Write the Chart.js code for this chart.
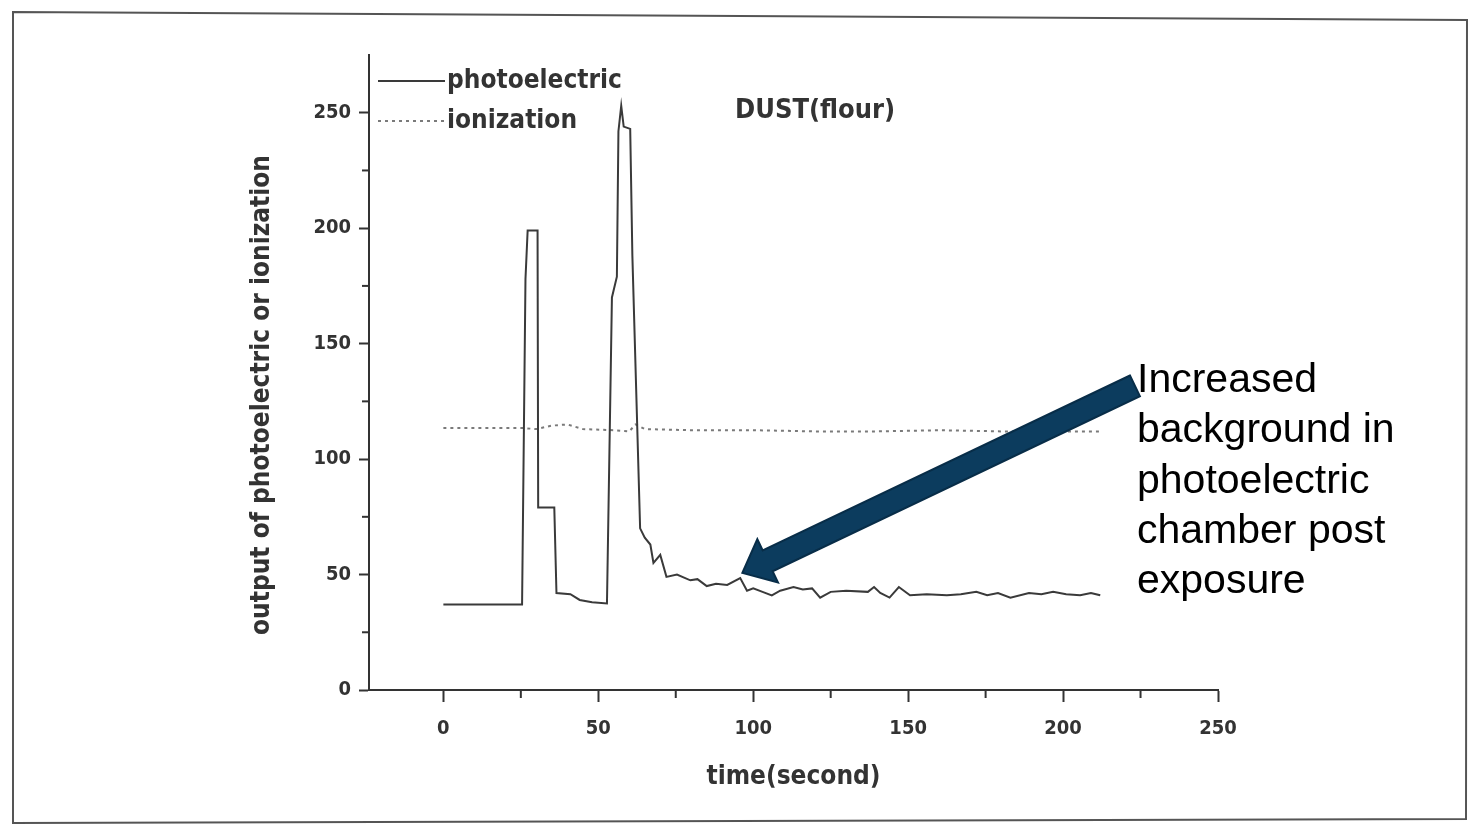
<!DOCTYPE html>
<html>
<head>
<meta charset="utf-8">
<title>DUST(flour)</title>
<script src="https://cdn.jsdelivr.net/npm/chart.js@4.4.0/dist/chart.umd.min.js"></script>
<style>
  html, body { margin: 0; padding: 0; background: #fff; }
  canvas { display: block; }
</style>
</head>
<body>
<canvas id="chart" width="1470" height="831"></canvas>
<script>
// photoelectric trace (time in s, output)
const photoTime = [0, 25.4, 26.5, 27.2, 30.4, 30.6, 35.8, 36.5, 41, 44, 48, 52.8, 54.4, 56, 56.5, 57.4, 58.2, 60.3, 61, 63.5,
  65, 66.8, 67.8, 70, 72, 75.4, 79.7, 82, 85, 88, 91.6, 95.8, 98, 100, 103, 106, 108.7, 113, 116, 119,
  121.6, 125, 130, 137, 139, 141, 144, 147, 150.6, 156, 162.5, 167, 172, 175.5, 179, 183, 189, 193, 196.8, 201,
  205.5, 209, 212];
const photoOutput = [37, 37, 178, 199, 199, 79, 79, 42, 41.5, 39, 38, 37.5, 170, 179, 242, 253, 244, 243, 188, 70,
  66, 63, 55, 58.5, 49, 50, 47.5, 48, 45, 46, 45.5, 48.5, 43, 44, 42.5, 41, 43, 44.6, 43.5, 44,
  40, 42.5, 43, 42.5, 44.6, 42, 40, 44.6, 41, 41.5, 41, 41.5, 42.5, 41, 42, 40, 42, 41.5, 42.5, 41.5,
  41, 42, 41];

// ionization trace
const ionTime = [0, 25, 30, 35, 40, 45, 55, 60, 62, 65, 80, 100, 120, 140, 160, 180, 200, 212];
const ionOutput = [113.5, 113.5, 113, 114.5, 115, 113, 112.5, 112, 115, 113, 112.5, 112.5, 112, 112, 112.5, 112, 112, 112];

const xTicks = [0, 50, 100, 150, 200, 250];
const yTicks = [0, 50, 100, 150, 200, 250];
const xMinorTicks = [25, 75, 125, 175, 225];
const yMinorTicks = [25, 75, 125, 175, 225];

const noteLines = ["Increased", "background in", "photoelectric", "chamber post", "exposure"];
const arrowFrom = { x: 223.2, y: 131.7 };
const arrowTo = { x: 96.5, y: 50.7 };

const FONT = "'DejaVu Sans Condensed', 'DejaVu Sans', sans-serif";
const INK = "#333";

function drawArrow(ctx, x1, y1, x2, y2) {
  const dx = x2 - x1, dy = y2 - y1, len = Math.hypot(dx, dy);
  const ux = dx / len, uy = dy / len, nx = -uy, ny = ux;
  const shaftW = 11.5, headW = 24, headL = 28;
  const bx = x2 - ux * headL, by = y2 - uy * headL;
  ctx.beginPath();
  ctx.moveTo(x1 + nx * shaftW, y1 + ny * shaftW);
  ctx.lineTo(bx + nx * shaftW, by + ny * shaftW);
  ctx.lineTo(bx + nx * headW, by + ny * headW);
  ctx.lineTo(x2, y2);
  ctx.lineTo(bx - nx * headW, by - ny * headW);
  ctx.lineTo(bx - nx * shaftW, by - ny * shaftW);
  ctx.lineTo(x1 - nx * shaftW, y1 - ny * shaftW);
  ctx.closePath();
  ctx.fillStyle = "#0c3c5e";
  ctx.fill();
  ctx.lineWidth = 2;
  ctx.strokeStyle = "#082d48";
  ctx.stroke();
}

const overlay = {
  id: "overlay",
  afterDraw(chart) {
    const { ctx, chartArea: ca, scales: { x, y } } = chart;
    ctx.save();

    // minor ticks
    ctx.strokeStyle = INK;
    ctx.lineWidth = 2;
    xMinorTicks.forEach(v => {
      const px = x.getPixelForValue(v);
      ctx.beginPath(); ctx.moveTo(px, ca.bottom); ctx.lineTo(px, ca.bottom + 8); ctx.stroke();
    });
    yMinorTicks.forEach(v => {
      const py = y.getPixelForValue(v);
      ctx.beginPath(); ctx.moveTo(ca.left - 7, py); ctx.lineTo(ca.left, py); ctx.stroke();
    });

    // legend, top left inside plot
    const ds = chart.data.datasets;
    ctx.textBaseline = "middle";
    ctx.textAlign = "left";
    ctx.font = "bold 26px " + FONT;
    ds.forEach((d, i) => {
      const ly = ca.top + 26 + i * 40;
      ctx.beginPath();
      ctx.setLineDash(d.borderDash || []);
      ctx.strokeStyle = d.borderColor;
      ctx.lineWidth = d.borderWidth;
      ctx.moveTo(ca.left + 9, ly);
      ctx.lineTo(ca.left + 76, ly);
      ctx.stroke();
      ctx.setLineDash([]);
      ctx.fillStyle = INK;
      ctx.fillText(d.label, ca.left + 78, ly);
    });

    ctx.font = "bold 27px " + FONT;
    ctx.fillText("DUST(flour)", ca.left + 366, ca.top + 56);

    // axis titles
    ctx.font = "bold 26px " + FONT;
    ctx.textAlign = "center";
    ctx.fillText("time(second)", (ca.left + ca.right) / 2, ca.bottom + 87);
    ctx.save();
    ctx.translate(ca.left - 107, ca.top + 340);
    ctx.rotate(-Math.PI / 2);
    ctx.font = "bold 26px " + FONT;
    ctx.fillText("output of photoelectric or ionization", 0, 0);
    ctx.restore();

    // annotation arrow + note
    drawArrow(ctx, x.getPixelForValue(arrowFrom.x), y.getPixelForValue(arrowFrom.y),
      x.getPixelForValue(arrowTo.x), y.getPixelForValue(arrowTo.y));
    ctx.fillStyle = "#000";
    ctx.textAlign = "left";
    ctx.textBaseline = "alphabetic";
    ctx.font = "41px 'Liberation Sans', Arial, sans-serif";
    noteLines.forEach((t, i) => ctx.fillText(t, 1137, 392 + i * 50.3));

    // scanned page frame
    ctx.beginPath();
    ctx.moveTo(13, 12);
    ctx.lineTo(1467, 20);
    ctx.lineTo(1466, 819);
    ctx.lineTo(13, 823);
    ctx.closePath();
    ctx.strokeStyle = "#555";
    ctx.lineWidth = 2;
    ctx.stroke();

    ctx.restore();
  }
};

new Chart(document.getElementById("chart"), {
  type: "line",
  data: {
    datasets: [
      {
        label: "photoelectric",
        data: photoTime.map((t, i) => ({ x: t, y: photoOutput[i] })),
        borderColor: "#3a3a3a",
        borderWidth: 2,
        pointRadius: 0,
        tension: 0,
        fill: false
      },
      {
        label: "ionization",
        data: ionTime.map((t, i) => ({ x: t, y: ionOutput[i] })),
        borderColor: "#7a7a7a",
        borderWidth: 2,
        borderDash: [3, 4],
        pointRadius: 0,
        tension: 0,
        fill: false
      }
    ]
  },
  options: {
    responsive: false,
    animation: false,
    layout: { padding: { left: 249, right: 252, top: 55, bottom: 41 } },
    plugins: {
      legend: { display: false },
      tooltip: { enabled: false }
    },
    scales: {
      x: {
        type: "linear",
        min: -24,
        max: 250,
        afterBuildTicks: s => { s.ticks = xTicks.map(v => ({ value: v })); },
        afterFit: s => { s.height = 100; },
        grid: { drawOnChartArea: false, tickLength: 12, tickColor: INK, tickWidth: 2 },
        border: { color: INK, width: 2 },
        ticks: { font: { family: FONT, size: 20, weight: "bold" }, color: INK, padding: 15, maxRotation: 0 }
      },
      y: {
        type: "linear",
        min: 0,
        max: 275,
        afterBuildTicks: s => { s.ticks = yTicks.map(v => ({ value: v })); },
        afterFit: s => { s.width = 120; },
        grid: { drawOnChartArea: false, tickLength: 10, tickColor: INK, tickWidth: 2 },
        border: { color: INK, width: 2 },
        ticks: { font: { family: FONT, size: 20, weight: "bold" }, color: INK, padding: 8 }
      }
    }
  },
  plugins: [overlay]
});
</script>
</body>
</html>
